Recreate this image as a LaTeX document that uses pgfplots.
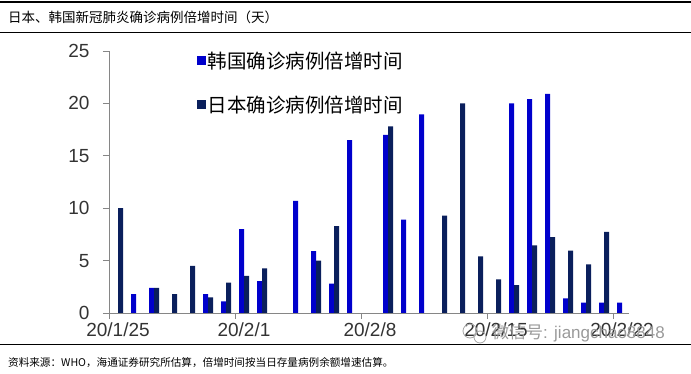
\documentclass[border=0pt]{standalone}
\usepackage{pgfplots}
\pgfplotsset{compat=1.18}
\usepackage{fontspec}
\setmainfont{Liberation Sans}
\newfontfamily\cjk{Noto Sans CJK SC}
\definecolor{korea}{HTML}{0000CC}
\definecolor{japan}{HTML}{0A1F5C}
\definecolor{axisgray}{HTML}{868686}
\definecolor{txt}{HTML}{333333}
\begin{document}
\begin{tikzpicture}
\path[use as bounding box] (0pt,0pt) rectangle (691pt,374pt);
\draw[line width=1.5pt] (0pt,372pt) -- (691pt,372pt);
\draw[line width=1pt] (0pt,341pt) -- (691pt,341pt);
\draw[line width=1pt] (0pt,29pt) -- (691pt,29pt);
\node[anchor=west,inner sep=0] at (8pt,357pt) {\cjk\fontsize{13.5}{15}\selectfont 日本、韩国新冠肺炎确诊病例倍增时间（天）};
\node[anchor=west,inner sep=0] at (8pt,11pt) {\cjk\fontsize{10.6}{13}\selectfont 资料来源：WHO，海通证券研究所估算，倍增时间按当日存量病例余额增速估算。};
\begin{axis}[at={(109pt,61pt)}, anchor=south west, scale only axis,
  width=520.2pt, height=262pt,
  xmin=-0.5, xmax=28.4, ymin=0, ymax=25,
  axis x line*=bottom, axis y line*=left,
  axis line style={axisgray, line width=0.8pt},
  tick style={axisgray, line width=0.8pt},
  tick align=outside, major tick length=6pt,
  xtick={-0.5,6.5,13.5,20.5,27.5},
  xticklabels={20/1/25,20/2/1,20/2/8,20/2/15,20/2/22},
  ytick={0,5,10,15,20,25},
  /pgf/number format/assume math mode=true,
  xticklabel style={font=\fontsize{19}{20}\selectfont, text=txt, xshift=9pt},
  yticklabel style={font=\fontsize{19}{20}\selectfont, text=txt, xshift=-10pt},
  ybar=0pt, bar width=5pt,
  legend style={at={(0.163,1.012)}, anchor=north west, draw=none, fill=none,
    font=\cjk\fontsize{19.5}{21}\selectfont, row sep=22pt},
  legend cell align=left,
  clip=false,
]
\addplot[fill=korea, draw=none, legend image code/.code={\fill[korea] (0pt,-4pt) rectangle (9pt,5pt);}] coordinates {
(1,1.8) (2,2.4) (5,1.8) (6,1.1) (7,8.0) (8,3.05) (10,10.7) (11,5.9) (12,2.8)
(13,16.5) (15,17.0) (16,8.9) (17,18.95) (22,20.0) (23,20.4) (24,20.9)
(25,1.4) (26,1.0) (27,1.0) (28,1.0)
};
\addlegendentry{韩国确诊病例倍增时间}
\addplot[fill=japan, draw=none, legend image code/.code={\fill[japan] (0pt,-4pt) rectangle (9pt,5pt);}] coordinates {
(0,10.0) (2,2.4) (3,1.8) (4,4.5) (5,1.5) (6,2.9) (7,3.55) (8,4.25) (11,5.0)
(12,8.3) (15,17.8) (18,9.3) (19,20.0) (20,5.4) (21,3.2) (22,2.65) (23,6.45)
(24,7.25) (25,5.95) (26,4.65) (27,7.75)
};
\addlegendentry{日本确诊病例倍增时间}
\end{axis}
\node[anchor=west,inner sep=0,text=black!40] at (492pt,41pt) {\cjk\fontsize{17}{19}\selectfont 微信号\rmfamily: jiangchao8848};
\draw[black!35, line width=0.8pt] (470pt,43pt) circle (7pt) (480pt,37pt) circle (6pt);
\end{tikzpicture}
\end{document}
